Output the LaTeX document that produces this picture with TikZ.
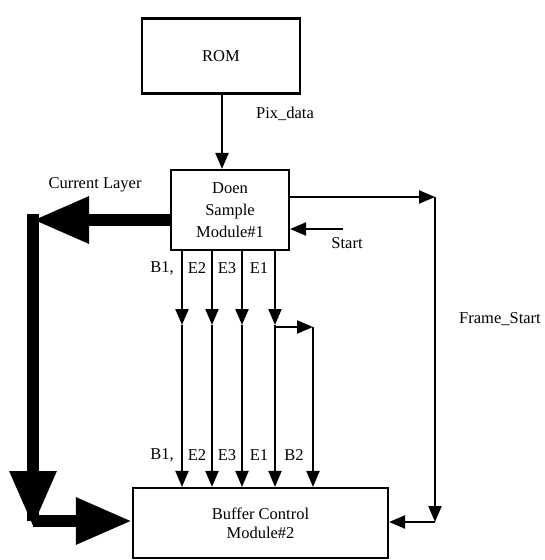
\documentclass[tikz,border=0pt]{standalone}
\usepackage{fontspec}
\setmainfont{Liberation Serif}
\usetikzlibrary{arrows.meta,calc}

\begin{document}
\begin{tikzpicture}[x=1pt,y=-1pt,
  block/.style={draw,line width=2.2pt,inner sep=0pt,align=center,font=\fontsize{16.5}{22}\selectfont},
  lbl/.style={inner sep=0pt,font=\fontsize{16.5}{19}\selectfont},
  sig/.style={line width=2.2pt,-{Triangle[length=16pt,width=13pt]}},
  wide/.style={line width=12pt,-{Triangle[length=56pt,width=44pt]}}
]
\useasboundingbox (0,0) rectangle (545,560);

\node[block,minimum width=158pt,minimum height=75pt] (rom) at (221,56) {ROM};
\node[block,minimum width=118pt,minimum height=80pt] (mod1) at (230,210) {Doen\\Sample\\Module\#1};
\node[block,minimum width=255pt,minimum height=70pt,font=\fontsize{16.5}{19}\selectfont] (mod2) at (260.5,523) {Buffer Control\\Module\#2};

% ROM -> sampler
\draw[sig] (rom.south -| 222,0) -- (mod1.north -| 222,0);
\node[lbl] (pix) at (285,114) {Pix\_data};

% current layer bus
\coordinate (cl1) at (33,220);
\coordinate (cl2) at (33,521);
\node[lbl] (curlbl) at (95,185) {Current Layer};
\draw[wide] (mod1.west |- cl1) -- (cl1);
\draw[line width=12pt] (cl1) ++(0,-6) -- (cl2);
\draw[wide] ($(cl2)+(0,-70)$) -- ($(cl2)+(0,6)$);
\draw[wide] (cl2) -- (mod2.west |- cl2);

% start / frame start
\coordinate (st) at (343,229);
\draw[sig] (st) -- (mod1.east |- st);
\node[lbl] (stlbl) at (347,243) {Start};
\coordinate (fs1) at (435,197);
\coordinate (fs2) at (435,522);
\draw[sig] (mod1.east |- fs1) -- (fs1);
\draw[sig] (fs1) -- (fs2);
\draw[sig] (fs2) -- (mod2.east |- fs2);
\node[lbl] (fslbl) at (500,319) {Frame\_Start};

% B/E lines
\foreach \xx/\nm in {182/a,212/b,242/c,275/d}{
  \coordinate (m\nm) at (\xx,325);
  \draw[sig] (mod1.south -| m\nm) -- (m\nm);
  \draw[sig] (m\nm) -- (mod2.north -| m\nm);
}
\coordinate (b2) at (313,327);
\draw[sig] (md) ++(0,2) -- (b2);
\draw[sig] (b2) -- (mod2.north -| b2);

\foreach \yy in {268,455}{
  \node[lbl] at (162,\yy) {B1,};
  \node[lbl] at (197,\yy) {E2};
  \node[lbl] at (227,\yy) {E3};
  \node[lbl] at (259,\yy) {E1};
}
\node[lbl] (b2lbl) at (294,455) {B2};
\end{tikzpicture}
\end{document}
